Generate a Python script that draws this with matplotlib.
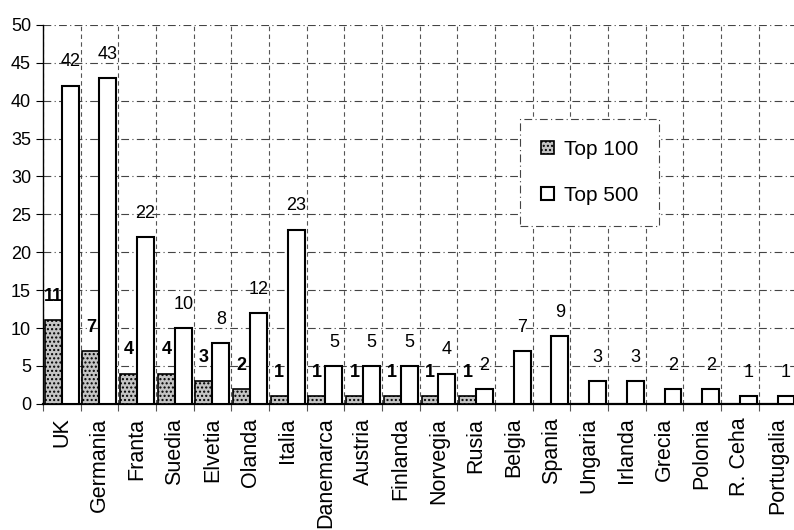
import matplotlib.pyplot as plt
import numpy as np

plt.rcParams['font.family'] = ['Liberation Sans', 'DejaVu Sans']

# tari si numarul de companii in top
tari = ["UK", "Germania", "Franta", "Suedia", "Elvetia", "Olanda", "Italia",
        "Danemarca", "Austria", "Finlanda", "Norvegia", "Rusia", "Belgia",
        "Spania", "Ungaria", "Irlanda", "Grecia", "Polonia", "R. Ceha",
        "Portugalia"]
top100 = [11, 7, 4, 4, 3, 2, 1, 1, 1, 1, 1, 1, 0, 0, 0, 0, 0, 0, 0, 0]
top500 = [42, 43, 22, 10, 8, 12, 23, 5, 5, 5, 4, 2, 7, 9, 3, 3, 2, 2, 1, 1]

fig = plt.figure(figsize=(7.94, 5.30), dpi=100)
ax = fig.add_axes([0.054, 0.238, 0.949, 0.715])

x = np.arange(len(tari))
w = 0.45
b1 = ax.bar(x - w / 2, top100, w, color="#c4c4c4", edgecolor="black",
            hatch="....", linewidth=1.2, label="Top 100", zorder=3)
b2 = ax.bar(x + w / 2, top500, w, color="white", edgecolor="black",
            linewidth=1.5, label="Top 500", zorder=3)

# etichete valori
for xi, v in zip(x, top100):
    if v > 0:
        ax.annotate(str(v), (xi - w / 2, v), xytext=(0, 17), textcoords="offset points",
                    ha="center", va="center", fontsize=13, fontweight="bold")
for xi, v in zip(x, top500):
    ax.annotate(str(v), (xi + w / 2, v), xytext=(0, 17), textcoords="offset points",
                ha="center", va="center", fontsize=13)

ax.set_xlim(-0.5, len(tari) - 0.5)
ax.set_ylim(0, 50)
ax.set_yticks(range(0, 51, 5))
ax.set_xticks(x)
ax.set_xticklabels(tari, rotation=90, fontsize=15.5)
ax.set_xticks(np.arange(len(tari) + 1) - 0.5, minor=True)
ax.tick_params(axis="y", labelsize=13, length=5, width=0.8)
ax.tick_params(axis="x", which="major", length=0, pad=10)
ax.tick_params(axis="x", which="minor", length=5, width=0.8, color="#555555")

ax.grid(axis="y", which="major", linestyle=(0, (7, 3, 1, 3)), color="#444444", linewidth=0.8, zorder=0)
ax.grid(axis="x", which="minor", linestyle=(0, (4, 3)), color="#555555", linewidth=0.8, zorder=0)

ax.spines["top"].set_visible(False)
ax.spines["right"].set_visible(False)
ax.spines["left"].set_linewidth(1.0)
ax.spines["bottom"].set_linewidth(1.6)

leg = fig.legend(handles=[b1, b2], loc="center", bbox_to_anchor=(0.651, 0.581, 0.184, 0.187),
                 fontsize=15, handlelength=0.6, handleheight=0.6, labelspacing=1.3,
                 fancybox=False, framealpha=1, borderpad=1.0, handletextpad=0.5,
                 borderaxespad=0)
leg.get_frame().set_edgecolor("#444444")
leg.get_frame().set_linestyle((0, (7, 3, 1, 3)))
leg.get_frame().set_linewidth(0.8)

fig.savefig("out.png", dpi=100)
